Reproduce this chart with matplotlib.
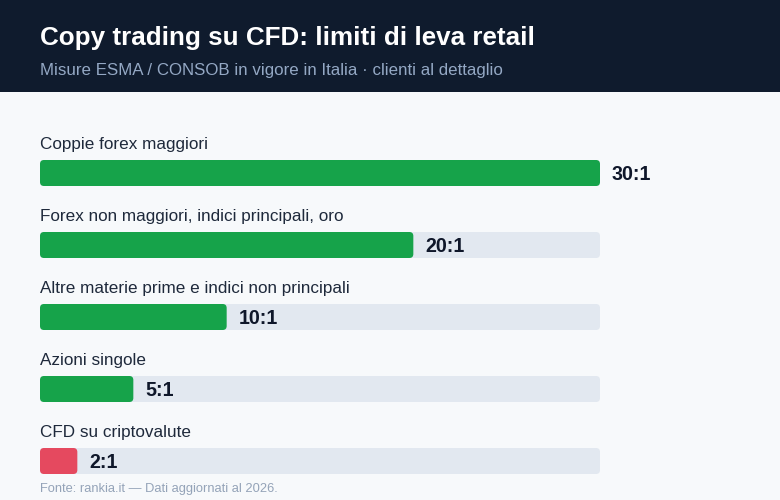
import matplotlib.pyplot as plt
from matplotlib.patches import FancyBboxPatch, Rectangle

plt.rcParams['font.family'] = ['Liberation Sans', 'DejaVu Sans']

categories = [
    'Coppie forex maggiori',
    'Forex non maggiori, indici principali, oro',
    'Altre materie prime e indici non principali',
    'Azioni singole',
    'CFD su criptovalute',
]
leverage = [30, 20, 10, 5, 2]
value_labels = ['30:1', '20:1', '10:1', '5:1', '2:1']
bar_colors = ['#16a34a', '#16a34a', '#16a34a', '#16a34a', '#e5495f']
max_leverage = 30

W, H = 780, 500
fig = plt.figure(figsize=(W / 100, H / 100), dpi=100)
fig.patch.set_facecolor('#f7f9fb')

# header band
fig.patches.append(Rectangle((0, 1 - 92 / H), 1, 92 / H, transform=fig.transFigure,
                             facecolor='#0f1b2d', edgecolor='none', zorder=0))
fig.text(40 / W, 1 - 37.5 / H, 'Copy trading su CFD: limiti di leva retail',
         color='white', fontsize=18.7, fontweight='bold', va='center', ha='left')
fig.text(40 / W, 1 - 70 / H, 'Misure ESMA / CONSOB in vigore in Italia · clienti al dettaglio',
         color='#94a8c4', fontsize=12.15, va='center', ha='left')

# bars area: slots of 72px, first bar centre at y=173px
ax = fig.add_axes([40 / W, 1 - 497 / H, 560 / W, 360 / H])
ax.set_xlim(0, max_leverage)
ax.set_ylim(len(categories) - 0.5, -0.5)
ax.axis('off')

bar_h = 26 / 72
px_x = max_leverage / 560   # data units per pixel (x)
px_y = 1 / 72               # data units per pixel (y)
radius = 4 * px_x
aspect = px_y / px_x


def rounded(x0, y0, w, h, color):
    p = FancyBboxPatch((x0, y0), w, h,
                       boxstyle=f'round,pad=0,rounding_size={radius}',
                       mutation_aspect=aspect, facecolor=color, edgecolor='none')
    ax.add_patch(p)


for i, (cat, val, lab, col) in enumerate(zip(categories, leverage, value_labels, bar_colors)):
    rounded(0, i - bar_h / 2, max_leverage, bar_h, '#e2e8f0')
    rounded(0, i - bar_h / 2, val, bar_h, col)
    ax.text(0, i - 28 / 72, cat, fontsize=12.3, color='#1e293b', va='center', ha='left')
    ax.annotate(lab, (val, i), xytext=(12, -2), textcoords='offset pixels',
                fontsize=14.1, fontweight='bold', color='#0f172a', va='center', ha='left')

fig.text(40 / W, 1 - 489 / H, 'Fonte: rankia.it — Dati aggiornati al 2026.',
         color='#94a3b8', fontsize=9.3, va='center', ha='left')

fig.savefig('out.png', dpi=100, facecolor=fig.get_facecolor())
